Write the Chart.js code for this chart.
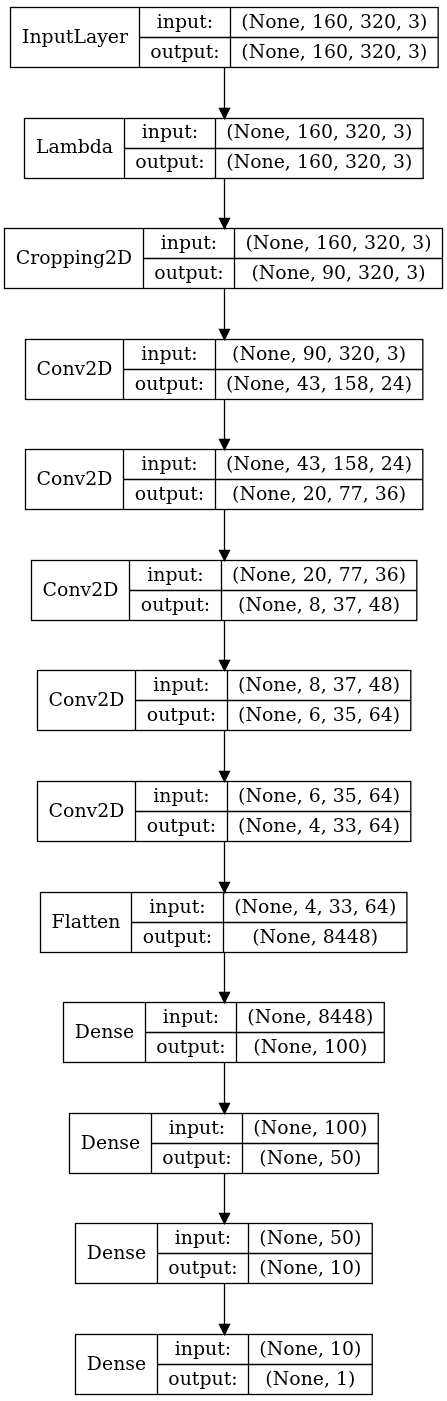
<!DOCTYPE html>
<html><head><meta charset="utf-8">
<script src="https://cdn.jsdelivr.net/npm/chart.js@4"></script>
<style>html,body{margin:0;padding:0;background:#fff}#w{width:447px;height:1401px}</style>
</head><body><div id="w"><canvas id="c"></canvas></div>
<script>
const layerNames = ["InputLayer","Lambda","Cropping2D","Conv2D","Conv2D","Conv2D","Conv2D","Conv2D","Flatten","Dense","Dense","Dense","Dense"];
const inputShapes = ["(None, 160, 320, 3)","(None, 160, 320, 3)","(None, 160, 320, 3)","(None, 90, 320, 3)","(None, 43, 158, 24)","(None, 20, 77, 36)","(None, 8, 37, 48)","(None, 6, 35, 64)","(None, 4, 33, 64)","(None, 8448)","(None, 100)","(None, 50)","(None, 10)"];
const outputShapes = ["(None, 160, 320, 3)","(None, 160, 320, 3)","(None, 90, 320, 3)","(None, 43, 158, 24)","(None, 20, 77, 36)","(None, 8, 37, 48)","(None, 6, 35, 64)","(None, 4, 33, 64)","(None, 8448)","(None, 100)","(None, 50)","(None, 10)","(None, 1)"];
const portLabels = ["input:","output:"];

const FONT = '18.9px "DejaVu Serif"';
const PAD = 11, HALF_H = 30;

const boxPlugin = {
  id:'boxes',
  afterDatasetsDraw(chart){
    const ctx = chart.ctx, xs = chart.scales.x, ys = chart.scales.y;
    ctx.save();
    ctx.font = FONT; ctx.textBaseline='middle'; ctx.fillStyle='#000'; ctx.strokeStyle='#000'; ctx.lineWidth=1.3;
    const labW = Math.max(...portLabels.map(t=>ctx.measureText(t).width)) + 2*PAD;
    const boxes = layerNames.map((n,i)=>{
      const cx = xs.getPixelForValue(0), cy = ys.getPixelForValue(i);
      const nW = ctx.measureText(n).width + 2*PAD;
      const sW = Math.max(ctx.measureText(inputShapes[i]).width, ctx.measureText(outputShapes[i]).width) + 2*PAD;
      const W = nW + labW + sW, x0 = Math.round(cx - W/2)+0.5;
      const top = Math.round(cy-HALF_H)+0.5, bot = Math.round(cy+HALF_H)+0.5, mid=Math.round(cy)+0.5;
      ctx.strokeRect(x0, top, W, bot-top);
      const x1 = Math.round(x0+nW)+0.5, x2 = Math.round(x0+nW+labW)+0.5;
      ctx.beginPath();
      ctx.moveTo(x1,top);ctx.lineTo(x1,bot);
      ctx.moveTo(x2,top);ctx.lineTo(x2,bot);
      ctx.moveTo(x1,mid);ctx.lineTo(x0+W,mid);
      ctx.stroke();
      ctx.textAlign='center';
      ctx.fillText(n, (x0+x1)/2, cy+1);
      ctx.fillText(portLabels[0], (x1+x2)/2, cy-HALF_H/2+1);
      ctx.fillText(portLabels[1], (x1+x2)/2, cy+HALF_H/2+1);
      ctx.fillText(inputShapes[i], (x2+x0+W)/2, cy-HALF_H/2+1);
      ctx.fillText(outputShapes[i], (x2+x0+W)/2, cy+HALF_H/2+1);
      return {cx, top, bot};
    });
    for(let i=0;i<boxes.length-1;i++){
      const ax = Math.round(boxes[i].cx)+0.5, y0 = boxes[i].bot, y1 = boxes[i+1].top;
      ctx.beginPath(); ctx.moveTo(ax,y0); ctx.lineTo(ax,y1-10); ctx.stroke();
      ctx.beginPath(); ctx.moveTo(ax-5,y1-10); ctx.lineTo(ax+5,y1-10); ctx.lineTo(ax,y1); ctx.closePath(); ctx.fill(); ctx.stroke();
    }
    ctx.restore();
  }
};

new Chart(document.getElementById('c'), {
  type:'scatter',
  data:{datasets:[{data: layerNames.map((n,i)=>({x:0,y:i})), pointRadius:0, pointHoverRadius:0}]},
  options:{
    responsive:true, maintainAspectRatio:false, animation:false,
    layout:{padding:0},
    plugins:{legend:{display:false}, tooltip:{enabled:false}},
    scales:{
      x:{type:'linear', display:false, min:-223.5, max:223.5},
      y:{type:'linear', display:false, reverse:true, min:-37/110.58, max:(1401-37)/110.58}
    }
  },
  plugins:[boxPlugin]
});
</script></body></html>
